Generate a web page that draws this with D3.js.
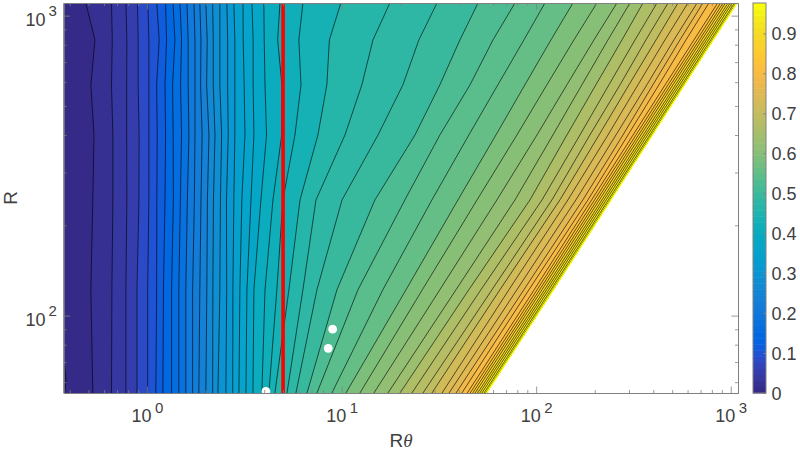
<!DOCTYPE html>
<html>
<head>
<meta charset="utf-8">
<style>
  body { margin: 0; background: white; }
  text { font-family: "Liberation Sans", Arial, sans-serif; fill: #404040; }
</style>
<script src="https://d3js.org/d3.v7.min.js"></script>
</head>
<body>
<div id="my_dataviz"></div>
<script>

// R value of each row the contours were read at
var rowR = [1102, 830, 588, 400, 243, 122, 55.2];

// log10(R theta) of contours 0.02, 0.04 ... 0.98 on each row, last entry is the edge of the data
var logAt1102 = [-.315,-.183,-.109,-.049,.004,.050,.095,.133,.169,.205,.241,.271,.302,.337,.374,.410,.446,.493,.539,.600,.683,.801,.996,1.248,1.490,1.701,1.891,2.045,2.189,2.312,2.415,2.482,2.549,2.621,2.678,2.729,2.780,2.827,2.857,2.888,2.933,2.948,2.961,2.973,2.986,2.997,3.008,3.019,3.028,3.032];
var logAt830 = [-.268,-.179,-.104,-.046,.009,.062,.100,.143,.177,.211,.246,.277,.309,.340,.374,.414,.451,.494,.545,.602,.671,.780,.937,1.161,1.397,1.608,1.778,1.937,2.076,2.194,2.297,2.369,2.441,2.508,2.564,2.616,2.662,2.708,2.739,2.770,2.811,2.826,2.839,2.851,2.864,2.875,2.886,2.897,2.906,2.910];
var logAt588 = [-.289,-.183,-.105,-.046,.009,.049,.092,.131,.172,.211,.246,.275,.306,.340,.374,.414,.451,.499,.545,.606,.693,.791,.924,1.104,1.315,1.505,1.660,1.803,1.942,2.055,2.158,2.235,2.307,2.374,2.431,2.477,2.523,2.569,2.600,2.631,2.663,2.678,2.691,2.703,2.716,2.727,2.738,2.749,2.758,2.762];
var logAt400 = [-.273,-.176,-.105,-.041,.009,.052,.095,.134,.177,.215,.246,.283,.318,.349,.383,.417,.451,.503,.549,.614,.692,.760,.878,1.017,1.187,1.377,1.505,1.654,1.793,1.901,2.004,2.086,2.158,2.225,2.276,2.323,2.369,2.410,2.446,2.472,2.498,2.513,2.526,2.538,2.551,2.562,2.573,2.584,2.593,2.597];
var logAt243 = [-.279,-.176,-.104,-.042,.009,.050,.092,.135,.171,.207,.243,.277,.310,.341,.377,.408,.446,.487,.534,.585,.647,.698,.786,.868,1.002,1.171,1.325,1.464,1.598,1.696,1.798,1.891,1.968,2.030,2.081,2.122,2.163,2.204,2.240,2.266,2.285,2.300,2.313,2.325,2.338,2.349,2.360,2.371,2.380,2.384];
var logAt122 = [-.289,-.181,-.109,-.052,.003,.049,.084,.126,.163,.199,.234,.271,.307,.338,.374,.409,.441,.477,.513,.549,.606,.667,.729,.801,.873,.976,1.084,1.212,1.331,1.415,1.505,1.588,1.654,1.716,1.773,1.814,1.860,1.901,1.937,1.963,1.990,2.005,2.018,2.030,2.043,2.054,2.065,2.076,2.085,2.089];
var logAt55 = [-.279,-.183,-.109,-.052,.003,.045,.081,.126,.163,.199,.234,.266,.302,.337,.364,.405,.440,.472,.508,.544,.590,.626,.657,.719,.765,.822,.873,.950,1.022,1.094,1.166,1.238,1.300,1.361,1.418,1.464,1.516,1.552,1.588,1.618,1.646,1.661,1.674,1.686,1.699,1.710,1.721,1.732,1.741,1.745];
var rows = [logAt1102, logAt830, logAt588, logAt400, logAt243, logAt122, logAt55];

// small piece of contour in the bottom left corner
var cornerR = [68.5, 61, 55.2];
var cornerRtheta = [.376, .383, .378];

// the white dots
var dotRtheta = [8.99, 8.53, 4.08];
var dotR = [90.1, 77.8, 55.9];

var redRtheta = 5;
var colorbarTicks = [0, .1, .2, .3, .4, .5, .6, .7, .8, .9];
var xMajor = [1, 10, 100, 1000];
var xMinor = [.4, .5, .6, .7, .8, .9, 2, 3, 4, 5, 6, 7, 8, 9, 20, 30, 40, 50, 60, 70, 80, 90, 200, 300, 400, 500, 600, 700, 800, 900];
var yMajor = [100, 1000];
var yMinor = [60, 70, 80, 90, 200, 300, 400, 500, 600, 700, 800, 900];

// parula
var parula = [[.2081,.1663,.5292],[.2116,.1898,.5777],[.2123,.2138,.6270],[.2081,.2386,.6771],[.1959,.2645,.7279],[.1707,.2919,.7792],[.1253,.3242,.8303],[.0591,.3598,.8683],[.0117,.3875,.8820],[.0060,.4086,.8828],[.0165,.4266,.8786],[.0329,.4430,.8720],[.0498,.4586,.8641],[.0629,.4737,.8554],[.0723,.4887,.8467],[.0779,.5040,.8384],[.0793,.5200,.8312],[.0749,.5375,.8263],[.0641,.5570,.8240],[.0488,.5772,.8228],[.0343,.5966,.8199],[.0265,.6137,.8135],[.0239,.6287,.8038],[.0231,.6418,.7913],[.0228,.6535,.7768],[.0267,.6642,.7607],[.0384,.6743,.7436],[.0590,.6838,.7254],[.0843,.6928,.7062],[.1133,.7015,.6859],[.1453,.7098,.6646],[.1801,.7177,.6424],[.2178,.7250,.6193],[.2586,.7317,.5954],[.3022,.7376,.5712],[.3482,.7424,.5473],[.3953,.7459,.5244],[.4420,.7481,.5033],[.4871,.7491,.4840],[.5300,.7491,.4661],[.5709,.7485,.4494],[.6099,.7473,.4337],[.6473,.7456,.4188],[.6834,.7435,.4044],[.7184,.7411,.3905],[.7525,.7384,.3768],[.7858,.7356,.3633],[.8185,.7327,.3498],[.8507,.7299,.3360],[.8824,.7274,.3217],[.9139,.7258,.3063],[.9450,.7261,.2886],[.9739,.7314,.2666],[.9938,.7455,.2403],[.9990,.7653,.2164],[.9955,.7861,.1967],[.9880,.8066,.1794],[.9789,.8271,.1633],[.9697,.8481,.1475],[.9626,.8705,.1309],[.9589,.8949,.1132],[.9598,.9218,.0948],[.9661,.9514,.0755],[.9763,.9831,.0538]];
var vmax = .976;

function color(v) {
  var i = Math.min(63, Math.max(0, Math.floor(v / vmax * 64 + 1e-6)));
  var c = parula[i];
  return d3.rgb(c[0] * 255, c[1] * 255, c[2] * 255).formatHex();
}

var box = {left: 63.5, right: 738, top: 3, bottom: 393};
var axisColor = "#808080";

var svg = d3.select("#my_dataviz")
  .append("svg")
  .attr("width", 800)
  .attr("height", 450);

var x = d3.scaleLog().domain([.3717, 1090]).range([box.left, box.right]);
var y = d3.scaleLog().domain([55.2, 1102]).range([box.bottom, box.top]);
var cbar = d3.scaleLinear().domain([0, vmax]).range([393, 3]);

svg.append("clipPath").attr("id", "plotarea")
  .append("rect")
  .attr("x", box.left).attr("y", box.top)
  .attr("width", box.right - box.left).attr("height", box.bottom - box.top);

var plot = svg.append("g").attr("clip-path", "url(#plotarea)");

var edgeIndex = logAt1102.length - 1;
var levels = d3.range(edgeIndex).map(function(i) { return (i + 1) * .02; });

// points of one contour, top row first
function contourPoints(k) {
  return rows.map(function(row, i) { return [Math.pow(10, row[k]), rowR[i]]; });
}

var line = d3.line()
  .x(function(d) { return x(d[0]); })
  .y(function(d) { return y(d[1]); });

var edgePoints = contourPoints(edgeIndex);

// lowest band first, each next one painted over it
var whole = [[x.domain()[0], rowR[0]]].concat(edgePoints).concat([[x.domain()[0], rowR[rowR.length - 1]]]);
plot.append("path").attr("d", line(whole) + "Z").attr("fill", color(0));

plot.selectAll("path.band")
  .data(levels)
  .enter()
  .append("path")
  .attr("class", "band")
  .attr("d", function(d, i) {
    return line(contourPoints(i).concat(edgePoints.slice().reverse())) + "Z";
  })
  .attr("fill", function(d) { return color(d); });

plot.selectAll("path.contour")
  .data(levels)
  .enter()
  .append("path")
  .attr("class", "contour")
  .attr("d", function(d, i) { return line(contourPoints(i)); })
  .attr("fill", "none")
  .attr("stroke", "#000")
  .attr("stroke-width", .65)
  .attr("stroke-opacity", .95);

plot.append("path")
  .attr("d", line(cornerR.map(function(r, i) { return [cornerRtheta[i], r]; })))
  .attr("fill", "none")
  .attr("stroke", "#000")
  .attr("stroke-width", .65);

plot.append("path")
  .attr("d", line(edgePoints))
  .attr("fill", "none")
  .attr("stroke", color(1))
  .attr("stroke-width", 1.4);

// white dots and the red line
plot.selectAll("circle")
  .data(dotR)
  .enter()
  .append("circle")
  .attr("cx", function(d, i) { return x(dotRtheta[i]); })
  .attr("cy", function(d) { return y(d); })
  .attr("r", 4.4)
  .attr("fill", "white");

plot.append("line")
  .attr("x1", x(redRtheta)).attr("x2", x(redRtheta))
  .attr("y1", box.top).attr("y2", box.bottom)
  .attr("stroke", "#ff0000")
  .attr("stroke-width", 3.6);

// axes, ticks point into the plot on all four sides
function drawAxis(axis, tx, ty, vals, len) {
  var g = svg.append("g")
    .attr("transform", "translate(" + tx + "," + ty + ")")
    .call(axis.tickValues(vals).tickSizeInner(len).tickSizeOuter(0).tickFormat(""));
  g.selectAll("line").attr("stroke", axisColor).attr("stroke-width", .8);
  g.selectAll("path").attr("stroke", axisColor).attr("stroke-width", 1);
}

drawAxis(d3.axisBottom(x), 0, box.bottom, xMinor, -3);
drawAxis(d3.axisBottom(x), 0, box.bottom, xMajor, -6.5);
drawAxis(d3.axisTop(x), 0, box.top, xMinor, -3);
drawAxis(d3.axisTop(x), 0, box.top, xMajor, -6.5);
drawAxis(d3.axisLeft(y), box.left, 0, yMinor, -3);
drawAxis(d3.axisLeft(y), box.left, 0, yMajor, -6.5);
drawAxis(d3.axisRight(y), box.right, 0, yMinor, -3);
drawAxis(d3.axisRight(y), box.right, 0, yMajor, -6.5);

function powerLabel(px, py, expX, expY, exp) {
  svg.append("text").attr("x", px).attr("y", py).attr("font-size", 18).text("10");
  svg.append("text").attr("x", expX).attr("y", expY).attr("font-size", 15).text(exp);
}

xMajor.forEach(function(d) {
  powerLabel(x(d) - 15.5, 421.5, x(d) + 8, 413, Math.round(Math.log10(d)));
});
yMajor.forEach(function(d) {
  powerLabel(25.5, y(d) + 10, 48.5, y(d) + .5, Math.round(Math.log10(d)));
});

// axis titles
svg.append("text")
  .attr("transform", "translate(17,198) rotate(-90)")
  .attr("text-anchor", "middle")
  .attr("font-size", 19)
  .text("R");

var xTitle = svg.append("text")
  .attr("x", 401)
  .attr("y", 446.5)
  .attr("text-anchor", "middle")
  .attr("font-size", 19);
xTitle.append("tspan").text("R");
xTitle.append("tspan")
  .style("font-family", "'Liberation Serif', serif")
  .style("font-style", "italic")
  .text("θ");

// colorbar
svg.selectAll("rect.cbar")
  .data(d3.range(64))
  .enter()
  .append("rect")
  .attr("class", "cbar")
  .attr("x", 753)
  .attr("width", 13)
  .attr("y", function(d) { return cbar((d + 1) / 64 * vmax); })
  .attr("height", function(d) { return cbar(d / 64 * vmax) - cbar((d + 1) / 64 * vmax) + .5; })
  .attr("fill", function(d) { return "rgb(" + parula[d].map(function(c) { return Math.round(c * 255); }).join(",") + ")"; });

svg.append("rect")
  .attr("x", 753).attr("y", 3).attr("width", 13).attr("height", 390)
  .attr("fill", "none").attr("stroke", axisColor).attr("stroke-width", 1);

var cbarAxis = svg.append("g")
  .attr("transform", "translate(766,0)")
  .call(d3.axisRight(cbar).tickValues(colorbarTicks).tickSizeInner(-2.5).tickSizeOuter(0).tickFormat(""));
cbarAxis.selectAll("line").attr("stroke", axisColor);
cbarAxis.select("path").remove();

svg.selectAll("text.cbarlabel")
  .data(colorbarTicks)
  .enter()
  .append("text")
  .attr("class", "cbarlabel")
  .attr("x", 771.5)
  .attr("y", function(d) { return cbar(d) + 6.5; })
  .attr("font-size", 18)
  .text(function(d) { return d === 0 ? "0" : d3.format(".1f")(d); });

</script>
</body>
</html>
